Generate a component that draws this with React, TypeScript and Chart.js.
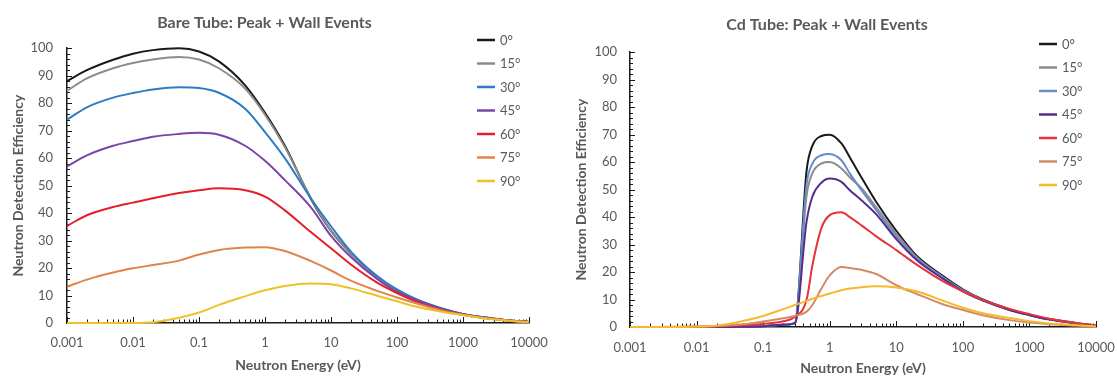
import React, { useEffect, useRef } from 'react';
import { Chart, registerables } from 'chart.js';

Chart.register(...registerables);

const FONT = "Lato, 'Open Sans', 'DejaVu Sans', sans-serif";
const TEXT = '#595959';

const angleLabels = ['0°', '15°', '30°', '45°', '60°', '75°', '90°'];
const xTickLabels = ['0.001', '0.01', '0.1', '1', '10', '100', '1000', '10000'];
const xMin = 0.001;
const xMax = 10000;
const yMin = 0;
const yMax = 100;
const yStep = 10;
const yMinorStep = 2;

// ---------- Bare tube ----------
const bareEnergy = [0.001, 0.002, 0.005, 0.01, 0.02, 0.05, 0.1, 0.2, 0.5, 1, 2, 5, 10, 20, 50, 100, 200, 500, 1000, 2000, 5000, 10000];
const bare0 = [88, 92, 95.8, 98, 99.3, 100, 98.8, 95.2, 86.5, 76.5, 64.5, 45, 33.5, 25.3, 16.7, 11.5, 8.4, 5, 3.2, 2.1, 0.9, 0.4];
const bare15 = [84.5, 89, 92.7, 94.6, 95.9, 96.8, 95.9, 92.7, 85.3, 75.8, 64, 45.3, 33.6, 25.4, 16.7, 11.6, 8.4, 5, 3.2, 2.1, 0.9, 0.4];
const bare30 = [74, 78.5, 82, 83.7, 85, 85.8, 85.5, 83.8, 78, 69.5, 60, 45.2, 35.2, 26, 17.1, 12.2, 8.6, 5.2, 3.3, 2.1, 0.9, 0.4];
const bare45 = [57, 61, 64.5, 66.2, 67.8, 68.8, 69.2, 68.5, 64.5, 59, 52, 42, 31.7, 24, 16, 11.3, 8.2, 4.9, 3.2, 2, 0.9, 0.4];
const bare60 = [35.3, 39.2, 42.2, 43.8, 45.4, 47.3, 48.3, 49, 48.3, 46, 41, 33, 27.2, 21.3, 14.7, 10.9, 7.7, 4.6, 3, 1.9, 0.9, 0.4];
const bare75 = [13.2, 15.8, 18.4, 19.9, 21.1, 22.7, 24.9, 26.6, 27.5, 27.6, 26.2, 22.5, 19.1, 15.4, 11.7, 9.3, 7.1, 4.4, 2.9, 1.8, 0.8, 0.3];
const bare90 = [0, 0, 0, 0, 0.3, 1.9, 3.8, 6.6, 9.7, 11.9, 13.5, 14.4, 14.1, 12.6, 9.9, 7.9, 5.9, 4, 2.9, 1.8, 0.8, 0.3];
const bareColors = ['#1a1a1a', '#8c8c8c', '#2e7bc4', '#7a45a8', '#e3202a', '#e0844a', '#eec226'];

// ---------- Cd tube ----------
const cdEnergy = [0.001, 0.002, 0.005, 0.01, 0.02, 0.05, 0.1, 0.2, 0.3, 0.45, 0.55, 0.75, 1, 1.5, 2, 3, 5, 10, 20, 50, 100, 200, 500, 1000, 2000, 5000, 10000];
const cd0 = [0, 0, 0, 0, 0, 0.1, 0.3, 0.8, 1.5, 57, 66, 69.5, 70, 66.8, 61.8, 54.4, 45.5, 35, 26, 18.6, 13.7, 10, 6.5, 4.5, 2.9, 1.5, 0.5];
const cd15 = [0, 0, 0, 0, 0, 0.1, 0.3, 0.8, 1.4, 48, 56, 59.5, 60, 57.7, 54.5, 50.5, 43.5, 34, 25.5, 18.2, 13.4, 9.8, 6.3, 4.4, 2.8, 1.4, 0.5];
const cd30 = [0, 0, 0, 0, 0, 0.1, 0.3, 0.8, 1.5, 52, 59.5, 62.5, 63, 60.7, 55.9, 49.8, 42.5, 33, 25, 18, 13.3, 9.8, 6.3, 4.4, 2.8, 1.4, 0.5];
const cd45 = [0, 0, 0, 0, 0, 0.1, 0.3, 0.8, 1.3, 38.5, 47.5, 52.5, 54, 52.8, 49.8, 46.1, 41, 32, 24.5, 17.6, 13, 9.6, 6.2, 4.3, 2.7, 1.3, 0.5];
const cd60 = [0, 0, 0, 0.1, 0.2, 0.6, 1.1, 2.1, 3.7, 10, 22.5, 36, 40.7, 41.8, 40, 37, 33, 28, 22.8, 16.7, 13, 9.8, 6.6, 4.7, 3, 1.4, 0.5];
const cd75 = [0, 0, 0.1, 0.2, 0.4, 1, 2, 3.2, 4, 5.6, 8, 14, 18.8, 21.8, 21.5, 20.8, 19.3, 15.2, 12.1, 8.3, 6.2, 4.3, 2.5, 1.6, 1, 0.5, 0.2];
const cd90 = [0, 0, 0, 0.15, 0.5, 2.2, 4, 6.5, 8, 9.5, 10.3, 11.3, 12.2, 13.4, 14, 14.5, 14.8, 14.4, 13, 9.6, 7, 5, 3.3, 2.1, 1.3, 0.6, 0.2];
const cdColors = ['#1a1a1a', '#8c8c8c', '#6a8cca', '#542d8e', '#e8323a', '#d58a62', '#f4b92c'];

const isDecade = (v: number) => {
  const l = Math.log10(v);
  return Math.abs(l - Math.round(l)) < 1e-6;
};

const xTickValues: number[] = [];
for (let e = Math.round(Math.log10(xMin)); e <= Math.round(Math.log10(xMax)); e++) {
  for (let m = 1; m <= 9; m++) {
    const v = parseFloat((m * Math.pow(10, e)).toPrecision(6));
    if (v > xMax) break;
    xTickValues.push(v);
  }
}

type PanelCfg = {
  title: string;
  energy: number[];
  series: number[][];
  colors: string[];
  width: number;
  yAxisWidth: number;
  xAxisHeight: number;
  padRight: number;
  titlePad: { top: number; bottom: number };
  yTickPad: number;
  xTickPad: number;
  yTitlePad: number;
  xTitlePad: number;
  legend: { x0: number; x1: number; y0: number; dy: number };
};

function Panel({ cfg }: { cfg: PanelCfg }) {
  const ref = useRef<HTMLCanvasElement>(null);

  useEffect(() => {
    if (!ref.current) return;

    const insideTicks = {
      id: 'insideTicks',
      beforeDatasetsDraw(chart: any) {
        const { ctx, chartArea } = chart;
        const xs = chart.scales.x;
        const ys = chart.scales.y;
        ctx.save();
        ctx.strokeStyle = '#1a1a1a';
        ctx.lineWidth = 1;
        ctx.beginPath();
        xs.ticks.forEach((t: any) => {
          const px = Math.round(xs.getPixelForValue(t.value)) + 0.5;
          const len = isDecade(t.value) ? 6 : 3.5;
          ctx.moveTo(px, chartArea.bottom);
          ctx.lineTo(px, chartArea.bottom - len);
        });
        for (let v = yMin; v <= yMax; v += yMinorStep) {
          const py = Math.round(ys.getPixelForValue(v)) + 0.5;
          const len = v % yStep === 0 ? 5 : 3;
          ctx.moveTo(chartArea.left, py);
          ctx.lineTo(chartArea.left + len, py);
        }
        ctx.stroke();
        ctx.restore();
      },
    };

    const angleLegend = {
      id: 'angleLegend',
      afterDatasetsDraw(chart: any) {
        const { ctx } = chart;
        const L = cfg.legend;
        ctx.save();
        chart.data.datasets.forEach((ds: any, i: number) => {
          const y = L.y0 + i * L.dy;
          ctx.strokeStyle = ds.borderColor;
          ctx.lineWidth = 2.5;
          ctx.beginPath();
          ctx.moveTo(L.x0, y);
          ctx.lineTo(L.x1, y);
          ctx.stroke();
          ctx.fillStyle = TEXT;
          ctx.font = `13px ${FONT}`;
          ctx.textBaseline = 'middle';
          ctx.textAlign = 'left';
          ctx.fillText(ds.label, L.x1 + 5, y + 0.5);
        });
        ctx.restore();
      },
    };

    const chart = new Chart(ref.current, {
      type: 'line',
      data: {
        datasets: cfg.series.map((vals, i) => ({
          label: angleLabels[i],
          data: cfg.energy.map((e, j) => ({ x: e, y: vals[j] })),
          borderColor: cfg.colors[i],
          backgroundColor: cfg.colors[i],
          borderWidth: 2,
          pointRadius: 0,
          pointHoverRadius: 0,
          fill: false,
          cubicInterpolationMode: 'monotone',
          order: cfg.series.length - 1 - i,
          clip: false,
        })) as any,
      },
      options: {
        animation: false,
        responsive: false,
        maintainAspectRatio: false,
        events: [],
        layout: { padding: { left: 0, right: cfg.padRight, top: 0, bottom: 0 } },
        plugins: {
          legend: { display: false },
          tooltip: { enabled: false },
          title: {
            display: true,
            text: cfg.title,
            color: TEXT,
            font: { family: FONT, size: 16, weight: 'bold', lineHeight: 1.2 },
            padding: cfg.titlePad,
          },
        },
        scales: {
          x: {
            type: 'logarithmic',
            min: xMin,
            max: xMax,
            afterBuildTicks: (s: any) => {
              s.ticks = xTickValues.map((v) => ({ value: v, major: isDecade(v) }));
            },
            afterFit: (s: any) => {
              s.height = cfg.xAxisHeight;
              s.paddingLeft = 0;
              s.paddingRight = 0;
            },
            grid: { display: false, drawTicks: false },
            border: { display: true, color: '#1a1a1a', width: 1.5 },
            ticks: {
              autoSkip: false,
              maxRotation: 0,
              minRotation: 0,
              padding: cfg.xTickPad,
              color: TEXT,
              font: { family: FONT, size: 13 },
              callback: (v: any) => {
                const n = Number(v);
                return isDecade(n) ? xTickLabels[Math.round(Math.log10(n)) - Math.round(Math.log10(xMin))] : '';
              },
            },
            title: {
              display: true,
              text: 'Neutron Energy (eV)',
              color: TEXT,
              font: { family: FONT, size: 14, weight: 'bold', lineHeight: 1.2 },
              padding: { top: 0, bottom: cfg.xTitlePad },
            },
          },
          y: {
            type: 'linear',
            min: yMin,
            max: yMax,
            afterFit: (s: any) => {
              s.width = cfg.yAxisWidth;
              s.paddingTop = 0;
              s.paddingBottom = 0;
            },
            grid: { display: false, drawTicks: false },
            border: { display: true, color: '#1a1a1a', width: 1.5 },
            ticks: {
              stepSize: yStep,
              padding: cfg.yTickPad,
              color: TEXT,
              font: { family: FONT, size: 13 },
            },
            title: {
              display: true,
              text: 'Neutron Detection Efficiency',
              color: TEXT,
              font: { family: FONT, size: 14, weight: 'bold', lineHeight: 1.2 },
              padding: { top: cfg.yTitlePad, bottom: 0 },
            },
          },
        },
      } as any,
      plugins: [insideTicks, angleLegend],
    });
    return () => chart.destroy();
  }, [cfg]);

  return (
    <canvas
      ref={ref}
      width={cfg.width}
      height={377}
      style={{ display: 'block', width: cfg.width, height: 377 }}
    />
  );
}

const leftCfg: PanelCfg = {
  title: 'Bare Tube: Peak + Wall Events',
  energy: bareEnergy,
  series: [bare0, bare15, bare30, bare45, bare60, bare75, bare90],
  colors: bareColors,
  width: 558,
  yAxisWidth: 67,
  xAxisHeight: 54,
  padRight: 29,
  titlePad: { top: 13, bottom: 16 },
  yTickPad: 14,
  xTickPad: 12,
  yTitlePad: 10,
  xTitlePad: 3,
  legend: { x0: 477, x1: 495, y0: 40, dy: 23.5 },
};

const rightCfg: PanelCfg = {
  title: 'Cd Tube: Peak + Wall Events',
  energy: cdEnergy,
  series: [cd0, cd15, cd30, cd45, cd60, cd75, cd90],
  colors: cdColors,
  width: 559,
  yAxisWidth: 72,
  xAxisHeight: 50,
  padRight: 21,
  titlePad: { top: 15, bottom: 18 },
  yTickPad: 13,
  xTickPad: 13,
  yTitlePad: 15,
  xTitlePad: 0,
  legend: { x0: 481, x1: 499, y0: 44, dy: 23.5 },
};

export default function App() {
  return (
    <div
      style={{
        position: 'absolute',
        left: 0,
        top: 0,
        width: 1117,
        height: 377,
        background: '#ffffff',
        display: 'flex',
      }}
    >
      <Panel cfg={leftCfg} />
      <Panel cfg={rightCfg} />
    </div>
  );
}
